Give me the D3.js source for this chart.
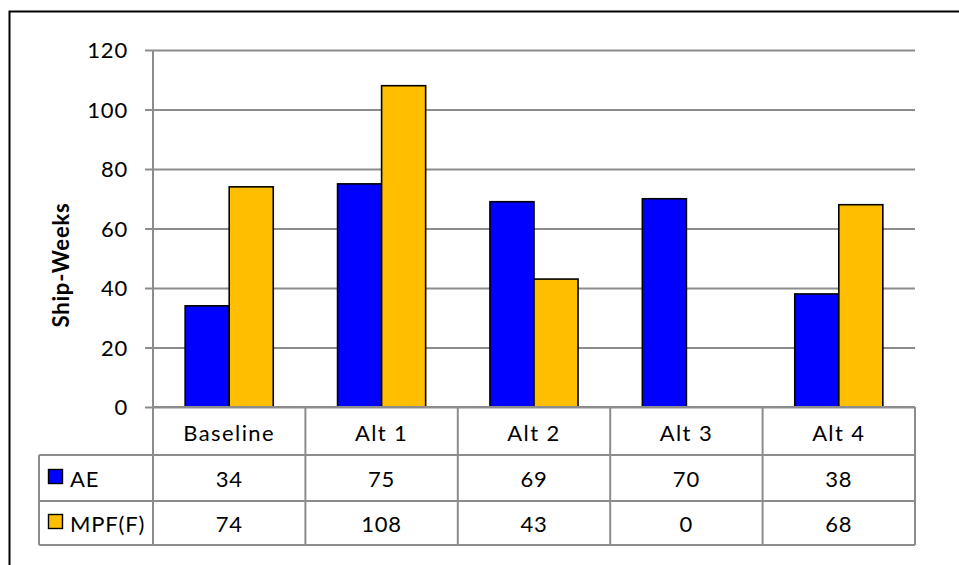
<!DOCTYPE html>
<html>
<head>
<meta charset="utf-8">
<script src="https://cdn.jsdelivr.net/npm/d3@7"></script>
<style>
  html, body { margin: 0; padding: 0; background: #fff; }
  svg { display: block; }
  text { font-family: Lato, "Noto Sans", sans-serif; fill: #000; }
</style>
</head>
<body>
<svg id="chart" width="959" height="565"></svg>
<script>
// Ship-weeks by alternative, two force types
const categories = ["Baseline", "Alt 1", "Alt 2", "Alt 3", "Alt 4"];
const seriesNames = ["AE", "MPF(F)"];
const aeValues = [34, 75, 69, 70, 38];
const mpfValues = [74, 108, 43, 0, 68];
const yTicks = [0, 20, 40, 60, 80, 100, 120];
const seriesColors = ["#0000ff", "#ffbf00"];

const series = [aeValues, mpfValues];

const svg = d3.select("#chart");
const plot = { left: 153, right: 915, top: 50, bottom: 407 };
const rowLines = [407, 455, 501, 545];
const gridColor = "#8c8c8c";
const fontSize = 22;
const spacing = 0.8;

// outer frame
svg.append("rect")
  .attr("x", 9.5).attr("y", 11.5)
  .attr("width", 960).attr("height", 570)
  .attr("fill", "none").attr("stroke", "#000").attr("stroke-width", 2);

const x = d3.scaleBand().domain(categories).range([plot.left, plot.right]);
const inner = d3.scaleBand().domain(seriesNames).range([0, x.bandwidth()]).paddingInner(0).paddingOuter(0.73);
const y = d3.scaleLinear().domain([0, 120]).range([plot.bottom, plot.top]);

// gridlines with ticks to the left of the axis
const yAxis = d3.axisLeft(y).tickValues(yTicks).tickSize(plot.right - plot.left + 8)
  .tickFormat(d3.format("d"));
const gy = svg.append("g").attr("transform", `translate(${plot.right},0)`).call(yAxis);
gy.select(".domain").remove();
gy.selectAll(".tick line").attr("stroke", gridColor).attr("stroke-width", 2);
gy.selectAll(".tick text")
  .attr("font-size", fontSize).attr("font-family", "Lato, sans-serif")
  .attr("fill", "#000").attr("letter-spacing", spacing)
  .attr("dy", "0.36em")
  .attr("x", -(plot.right - plot.left) - 25);

// vertical axis line
svg.append("line")
  .attr("x1", plot.left).attr("x2", plot.left)
  .attr("y1", plot.top).attr("y2", plot.bottom)
  .attr("stroke", gridColor).attr("stroke-width", 2);

// bars
const groups = svg.append("g").selectAll("g")
  .data(categories)
  .join("g")
  .attr("transform", d => `translate(${x(d)},0)`);

groups.selectAll("rect")
  .data((c, i) => seriesNames.map((s, k) => ({ s, k, v: series[k][i] })).filter(d => d.v > 0))
  .join("rect")
  .attr("x", d => inner(d.s))
  .attr("width", inner.bandwidth())
  .attr("y", d => y(d.v))
  .attr("height", d => y(0) - y(d.v))
  .attr("fill", d => seriesColors[d.k])
  .attr("stroke", "#000")
  .attr("stroke-width", 1.6);

// data table below the plot
const table = svg.append("g");
const legendLeft = 39;

// horizontal rules
table.append("line").attr("x1", plot.left).attr("x2", plot.right)
  .attr("y1", rowLines[0]).attr("y2", rowLines[0]).attr("stroke", gridColor).attr("stroke-width", 2);
rowLines.slice(1).forEach(ry => {
  table.append("line").attr("x1", legendLeft).attr("x2", plot.right)
    .attr("y1", ry).attr("y2", ry).attr("stroke", gridColor).attr("stroke-width", 2);
});

// vertical rules
const colEdges = categories.map(c => x(c)).concat([plot.right]);
colEdges.forEach(cx => {
  table.append("line").attr("x1", cx).attr("x2", cx)
    .attr("y1", rowLines[0]).attr("y2", rowLines[3]).attr("stroke", gridColor).attr("stroke-width", 2);
});
table.append("line").attr("x1", legendLeft).attr("x2", legendLeft)
  .attr("y1", rowLines[1]).attr("y2", rowLines[3]).attr("stroke", gridColor).attr("stroke-width", 2);

function styleText(sel) {
  return sel.attr("font-size", fontSize)
    .attr("letter-spacing", spacing);
}

// category header
table.selectAll("text.cat")
  .data(categories)
  .join("text")
  .attr("class", "cat")
  .attr("x", d => x(d) + x.bandwidth() / 2)
  .attr("y", 441)
  .attr("text-anchor", "middle")
  .call(styleText)
  .attr("letter-spacing", 1.4)
  .text(d => d);

// value rows
const rowBaselines = [487, 532];
series.forEach((vals, k) => {
  table.selectAll(`text.val${k}`)
    .data(vals)
    .join("text")
    .attr("class", `val${k}`)
    .attr("x", (d, i) => x(categories[i]) + x.bandwidth() / 2)
    .attr("y", rowBaselines[k])
    .attr("text-anchor", "middle")
    .call(styleText)
    .text(d => d);

  // legend key in the row header
  table.append("rect")
    .attr("x", 48.5).attr("y", rowBaselines[k] - 17.5)
    .attr("width", 14).attr("height", 14)
    .attr("fill", seriesColors[k]).attr("stroke", "#000").attr("stroke-width", 1.4);
  table.append("text")
    .attr("x", 70).attr("y", rowBaselines[k])
    .call(styleText)
    .text(seriesNames[k]);
});

// y-axis title
svg.append("text")
  .attr("transform", "translate(69,265) rotate(-90)")
  .attr("text-anchor", "middle")
  .attr("font-size", 22)
  .attr("font-weight", "bold")
  .attr("letter-spacing", 0.8)
  .text("Ship-Weeks");
</script>
</body>
</html>
